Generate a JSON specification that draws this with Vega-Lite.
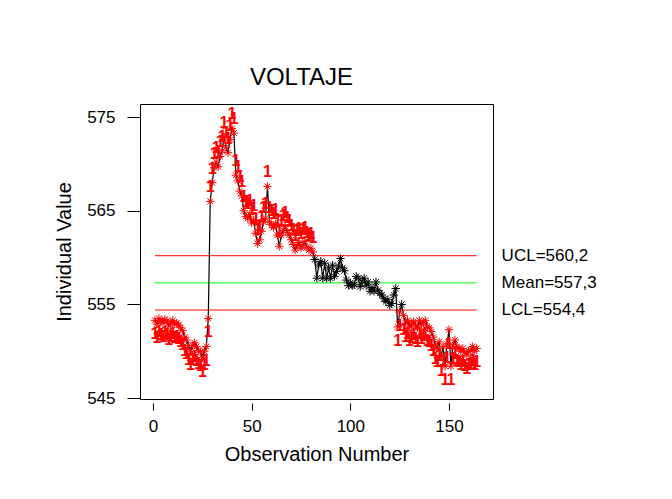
{
  "$schema": "https://vega.github.io/schema/vega-lite/v6.json",
  "width": 353,
  "height": 295,
  "autosize": {"type": "none"},
  "padding": {"left": 140, "top": 104, "right": 179, "bottom": 100},
  "background": "white",
  "config": {
    "view": {"stroke": "black", "strokeWidth": 1},
    "font": "Liberation Sans",
    "axis": {"grid": false, "domain": false, "tickColor": "black", "labelColor": "black", "titleColor": "black", "titleFontWeight": "normal", "labelFont": "Liberation Sans", "titleFont": "Liberation Sans"}
  },
  "title": {"text": "VOLTAJE", "fontSize": 24, "fontWeight": "normal", "font": "Liberation Sans", "color": "black", "anchor": "middle", "dx": -15, "dy": 24, "offset": 19, "baseline": "alphabetic"},
  "datasets": {
    "limits": [
      {"name": "UCL", "value": 560.2, "label": "UCL=560,2", "start": 1, "end": 164},
      {"name": "Mean", "value": 557.3, "label": "Mean=557,3", "start": 1, "end": 164},
      {"name": "LCL", "value": 554.4, "label": "LCL=554,4", "start": 1, "end": 164}
    ],
    "obs": [
      {"n":1,"v":553.3},{"n":2,"v":552.9},{"n":3,"v":553.5},{"n":4,"v":553.2},{"n":5,"v":553.0},
      {"n":6,"v":553.4},{"n":7,"v":553.2},{"n":8,"v":552.7},{"n":9,"v":553.0},{"n":10,"v":553.3},
      {"n":11,"v":552.9},{"n":12,"v":553.0},{"n":13,"v":552.8},{"n":14,"v":552.5},{"n":15,"v":552.2},
      {"n":16,"v":551.5},{"n":17,"v":551.2},{"n":18,"v":550.6},{"n":19,"v":550.0},{"n":20,"v":550.6},
      {"n":21,"v":550.9},{"n":22,"v":550.5},{"n":23,"v":550.1},{"n":24,"v":549.9},{"n":25,"v":549.3},
      {"n":26,"v":550.0},{"n":27,"v":550.5},{"n":28,"v":553.5},{"n":29,"v":566.0},{"n":30,"v":568.0},
      {"n":31,"v":569.6},{"n":32,"v":570.2},{"n":33,"v":569.7},{"n":34,"v":570.8},{"n":35,"v":571.4},
      {"n":36,"v":572.9},{"n":37,"v":571.8},{"n":38,"v":571.2},{"n":39,"v":572.6},{"n":40,"v":573.8},
      {"n":41,"v":573.3},{"n":42,"v":568.8},{"n":43,"v":568.2},{"n":44,"v":567.1},{"n":45,"v":566.6},
      {"n":46,"v":565.0},{"n":47,"v":564.4},{"n":48,"v":564.2},{"n":49,"v":564.6},{"n":50,"v":563.7},
      {"n":51,"v":564.0},{"n":52,"v":562.6},{"n":53,"v":561.5},{"n":54,"v":561.9},{"n":55,"v":562.8},
      {"n":56,"v":563.8},{"n":57,"v":564.2},{"n":58,"v":567.6},{"n":59,"v":563.8},{"n":60,"v":563.5},
      {"n":61,"v":563.2},{"n":62,"v":563.6},{"n":63,"v":562.4},{"n":64,"v":561.2},{"n":65,"v":562.4},
      {"n":66,"v":562.9},{"n":67,"v":563.3},{"n":68,"v":562.7},{"n":69,"v":562.4},{"n":70,"v":561.9},
      {"n":71,"v":561.4},{"n":72,"v":560.8},{"n":73,"v":561.3},{"n":74,"v":561.6},{"n":75,"v":561.0},
      {"n":76,"v":561.4},{"n":77,"v":561.7},{"n":78,"v":561.1},{"n":79,"v":560.8},{"n":80,"v":561.0},
      {"n":81,"v":560.6},{"n":82,"v":559.8},{"n":83,"v":557.8},{"n":84,"v":559.2},{"n":85,"v":559.6},
      {"n":86,"v":557.8},{"n":87,"v":559.4},{"n":88,"v":557.8},{"n":89,"v":558.9},{"n":90,"v":557.8},
      {"n":91,"v":559.2},{"n":92,"v":558.0},{"n":93,"v":558.5},{"n":94,"v":559.1},{"n":95,"v":559.9},
      {"n":96,"v":558.9},{"n":97,"v":558.6},{"n":98,"v":557.6},{"n":99,"v":557.0},{"n":100,"v":557.3},
      {"n":101,"v":557.0},{"n":102,"v":557.1},{"n":103,"v":558.0},{"n":104,"v":557.8},{"n":105,"v":556.9},
      {"n":106,"v":557.5},{"n":107,"v":557.8},{"n":108,"v":557.0},{"n":109,"v":557.4},{"n":110,"v":556.4},
      {"n":111,"v":556.8},{"n":112,"v":556.4},{"n":113,"v":557.4},{"n":114,"v":556.5},{"n":115,"v":556.2},
      {"n":116,"v":556.0},{"n":117,"v":555.6},{"n":118,"v":555.3},{"n":119,"v":555.5},{"n":120,"v":554.9},
      {"n":121,"v":555.1},{"n":122,"v":556.0},{"n":123,"v":556.7},{"n":124,"v":552.6},{"n":125,"v":554.2},
      {"n":126,"v":555.0},{"n":127,"v":553.8},{"n":128,"v":553.0},{"n":129,"v":553.3},{"n":130,"v":552.6},
      {"n":131,"v":552.9},{"n":132,"v":553.2},{"n":133,"v":552.8},{"n":134,"v":552.5},{"n":135,"v":553.3},
      {"n":136,"v":552.8},{"n":137,"v":553.1},{"n":138,"v":553.3},{"n":139,"v":552.6},{"n":140,"v":552.5},
      {"n":141,"v":552.1},{"n":142,"v":551.5},{"n":143,"v":550.7},{"n":144,"v":550.3},{"n":145,"v":551.0},
      {"n":146,"v":549.4},{"n":147,"v":550.5},{"n":148,"v":548.4},{"n":149,"v":550.8},{"n":150,"v":552.3},
      {"n":151,"v":548.4},{"n":152,"v":550.7},{"n":153,"v":551.2},{"n":154,"v":550.5},{"n":155,"v":550.3},
      {"n":156,"v":550.0},{"n":157,"v":550.3},{"n":158,"v":549.9},{"n":159,"v":549.6},{"n":160,"v":550.0},
      {"n":161,"v":550.1},{"n":162,"v":550.5},{"n":163,"v":550.0},{"n":164,"v":550.3}
    ]
  },
  "layer": [
    {
      "data": {"name": "limits"},
      "mark": {"type": "rule", "strokeWidth": 1},
      "encoding": {
        "x": {"field": "start", "type": "quantitative",
              "scale": {"domain": [-6.6, 172.3], "nice": false, "zero": false},
              "axis": {"values": [0, 50, 100, 150], "title": "Observation Number", "titleFontSize": 20, "labelFontSize": 17, "tickSize": 7, "offset": 4, "labelPadding": 8, "titlePadding": 10}},
        "x2": {"field": "end"},
        "y": {"field": "value", "type": "quantitative",
              "scale": {"domain": [544.9, 576.4], "nice": false, "zero": false},
              "axis": {"values": [545, 555, 565, 575], "title": "Individual Value", "titleFontSize": 20, "labelFontSize": 17, "tickSize": 13, "labelPadding": 12, "titlePadding": 12}},
        "color": {"field": "name", "type": "nominal",
                  "scale": {"domain": ["UCL", "Mean", "LCL"], "range": ["#ff0000", "#00ff00", "#ff0000"]},
                  "legend": null}
      }
    },
    {
      "data": {"name": "limits"},
      "mark": {"type": "text", "align": "left", "baseline": "middle", "dx": 25, "fontSize": 17, "fill": "black"},
      "encoding": {
        "x": {"field": "end", "type": "quantitative"},
        "y": {"field": "value", "type": "quantitative"},
        "text": {"field": "label"}
      }
    },
    {
      "data": {"name": "obs"},
      "mark": {"type": "line", "stroke": "black", "strokeWidth": 1.2},
      "encoding": {
        "x": {"field": "n", "type": "quantitative"},
        "y": {"field": "v", "type": "quantitative"}
      }
    },
    {
      "data": {"name": "obs"},
      "mark": {"type": "point", "shape": "M0,-1L0,1M-1,0L1,0M-0.7,-0.7L0.7,0.7M-0.7,0.7L0.7,-0.7", "filled": false, "size": 70, "strokeWidth": 1, "opacity": 1},
      "encoding": {
        "x": {"field": "n", "type": "quantitative"},
        "y": {"field": "v", "type": "quantitative"},
        "stroke": {"condition": {"test": "datum.v > 560.2 || datum.v < 554.4", "value": "#ff0000"}, "value": "black"}
      }
    },
    {
      "data": {"name": "obs"},
      "transform": [{"filter": "datum.v > 560.2"}],
      "mark": {"type": "text", "fill": "#ff0000", "fontSize": 16, "fontWeight": "bold", "dy": -14, "baseline": "middle"},
      "encoding": {
        "x": {"field": "n", "type": "quantitative"},
        "y": {"field": "v", "type": "quantitative"},
        "text": {"value": "1"}
      }
    },
    {
      "data": {"name": "obs"},
      "transform": [{"filter": "datum.v < 554.4"}],
      "mark": {"type": "text", "fill": "#ff0000", "fontSize": 16, "fontWeight": "bold", "dy": 14, "baseline": "middle"},
      "encoding": {
        "x": {"field": "n", "type": "quantitative"},
        "y": {"field": "v", "type": "quantitative"},
        "text": {"value": "1"}
      }
    }
  ]
}
